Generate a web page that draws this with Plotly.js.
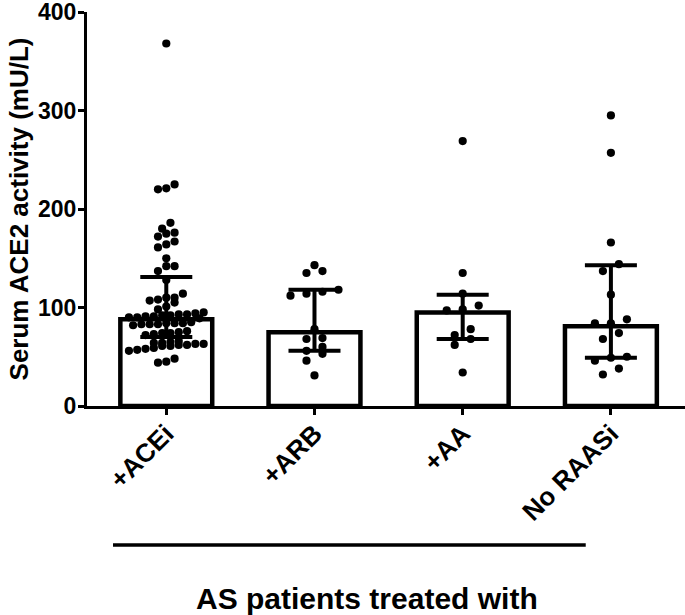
<!DOCTYPE html>
<html>
<head>
<meta charset="utf-8">
<script src="https://cdn.plot.ly/plotly-3.0.1.min.js"></script>
<style>html,body{margin:0;padding:0;background:#fff}#chart{width:685px;height:615px}</style>
</head>
<body>
<div id="chart"></div>
<script>
// ---- data ----
const categories = ['+ACEi', '+ARB', '+AA', 'No RAASi'];
const medians = [88, 75, 95, 81];
const q1 = [70, 56, 68, 49];
const q3 = [131, 118, 113, 143];
const acei = [368, 225, 221, 220, 186, 180, 176, 175, 172, 167, 164, 161, 150, 142, 142, 137, 128,
  114, 110, 110, 108, 107, 105, 101, 98,
  95, 94, 93, 93, 92, 92, 91, 91, 90, 90, 89,
  85, 84, 84, 84, 83, 83, 83, 82,
  76, 75, 74, 74, 73, 72,
  66, 65, 64, 64, 63, 63, 62, 62, 61, 61,
  59, 58, 57, 56,
  48, 45, 44];
const arb = [143, 137, 135, 118, 116, 114, 112, 78, 69, 68, 60, 56, 53, 46, 31];
const aa = [269, 135, 114, 102, 98, 97, 78, 72, 68, 62, 34];
const noraasi = [295, 257, 166, 144, 137, 113, 88, 84, 84, 74, 68, 50, 49, 46, 38, 32];
const groups = [acei, arb, aa, noraasi];
const dotSpacing = [8.3, 16, 16, 16];
const yTicks = [0, 100, 200, 300, 400];

// ---- layout geometry ----
const W = 685, H = 615;
const M = {l: 87, r: 0, t: 12, b: 209};
const xRange = [-0.535, 3.5];
const yRange = [0, 400];
const plotW = W - M.l - M.r, plotH = H - M.t - M.b;
const pxPerX = plotW / (xRange[1] - xRange[0]);
const pxPerY = plotH / (yRange[1] - yRange[0]);

// GraphPad-like scatter: group close values into rows, centre each row
function swarm(vals, center, spacing) {
  const idx = vals.map((v, i) => i).sort((a, b) => vals[a] - vals[b]);
  const rows = [];
  let cur = null;
  idx.forEach(i => {
    if (cur && (vals[i] - vals[cur[0]]) * pxPerY < 7.5) cur.push(i);
    else { cur = [i]; rows.push(cur); }
  });
  const xs = new Array(vals.length);
  rows.forEach(r => {
    const n = r.length;
    r.forEach((i, k) => { xs[i] = center + ((k - (n - 1) / 2) * spacing) / pxPerX; });
  });
  return xs;
}

const xsAll = [], ysAll = [];
groups.forEach((g, gi) => {
  const xs = swarm(g, gi, dotSpacing[gi]);
  xs.forEach((x, j) => { xsAll.push(x); ysAll.push(g[j]); });
});

const bold = {family: 'Arial, Liberation Sans, sans-serif', color: '#000', weight: 'bold'};

const traces = [
  {
    type: 'bar',
    x: categories.map((c, i) => i),
    y: medians,
    width: 0.62,
    marker: {color: '#fff', line: {color: '#000', width: 4.5}},
    error_y: {
      type: 'data', symmetric: false,
      array: q3.map((v, i) => v - medians[i]),
      arrayminus: medians.map((m, i) => m - q1[i]),
      thickness: 4, width: 26, color: '#000'
    },
    hoverinfo: 'none'
  },
  {
    type: 'scatter', mode: 'markers',
    x: xsAll, y: ysAll,
    marker: {color: '#000', size: 8.2},
    cliponaxis: false,
    hoverinfo: 'none'
  }
];

const layout = {
  width: W, height: H,
  margin: M,
  showlegend: false,
  paper_bgcolor: '#fff', plot_bgcolor: '#fff',
  xaxis: {
    range: xRange,
    tickmode: 'array', tickvals: categories.map((c, i) => i), ticktext: categories,
    tickangle: -45,
    tickfont: Object.assign({size: 26}, bold),
    ticklabelstandoff: -7,
    ticks: 'outside', ticklen: 6, tickwidth: 3, tickcolor: '#000',
    showline: true, linewidth: 3, linecolor: '#000',
    showgrid: false, zeroline: false, fixedrange: true
  },
  yaxis: {
    range: yRange,
    tickmode: 'array', tickvals: yTicks,
    tickfont: Object.assign({size: 23}, bold),
    ticklabeloverflow: 'allow',
    ticklabelstandoff: -3,
    ticks: 'outside', ticklen: 6, tickwidth: 3, tickcolor: '#000',
    showline: true, linewidth: 3, linecolor: '#000',
    showgrid: false, zeroline: false, fixedrange: true,
    title: {text: 'Serum ACE2 activity (mU/L)', font: Object.assign({size: 26}, bold), standoff: 2}
  },
  shapes: [{
    type: 'line', xref: 'paper', yref: 'paper',
    x0: 0.0435, x1: 0.834, y0: -0.3528, y1: -0.3528,
    line: {color: '#000', width: 3.5}
  }],
  annotations: [{
    xref: 'paper', yref: 'paper', x: 0.468, y: -0.4898,
    xanchor: 'center', yanchor: 'middle', showarrow: false,
    text: 'AS patients treated with',
    font: Object.assign({size: 30}, bold)
  }]
};

Plotly.newPlot('chart', traces, layout, {displayModeBar: false, staticPlot: true});
</script>
</body>
</html>
